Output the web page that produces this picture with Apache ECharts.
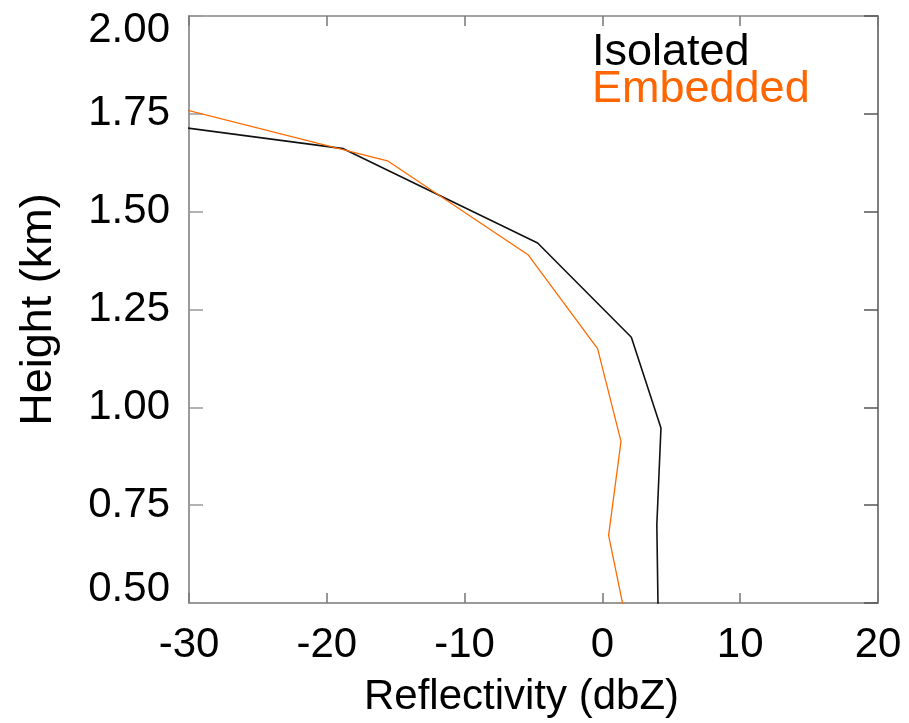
<!DOCTYPE html>
<html>
<head>
<meta charset="utf-8">
<script src="https://cdn.jsdelivr.net/npm/echarts@6/dist/echarts.min.js"></script>
<style>html,body{margin:0;padding:0;background:#fff}#c{width:909px;height:723px}</style>
</head>
<body>
<div id="c"></div>
<script>
// Data (reflectivity dBZ vs height km); first points lie beyond the plot and are clipped
const seriesNames = ['Isolated', 'Embedded'];
const isolatedHeight = [1.90, 1.661, 1.42, 1.179, 0.947, 0.70, 0.46];
const isolatedRefl   = [-70, -18.8, -4.7, 2.1, 4.25, 3.95, 4.05];
const embeddedHeight = [1.87, 1.63, 1.39, 1.15, 0.913, 0.673, 0.433];
const embeddedRefl   = [-42.6, -15.6, -5.4, -0.35, 1.35, 0.45, 1.85];
const xTicks = [-30, -20, -10, 0, 10, 20];
const yTicks = [0.50, 0.75, 1.00, 1.25, 1.50, 1.75, 2.00];

const FONT = '"Liberation Sans", Arial, Helvetica, sans-serif';
const colors = ['#111111', '#ff6a00'];
const pair = (xs, ys) => xs.map((x, i) => [x, ys[i]]);

const chart = echarts.init(document.getElementById('c'), null, {renderer: 'canvas'});
const axisLineStyle = {color: '#9a9a9a', width: 2};
chart.setOption({
  animation: false,
  backgroundColor: '#ffffff',
  grid: {left: 189, top: 16, right: 31, bottom: 117},
  xAxis: [{
    type: 'value', min: xTicks[0], max: xTicks[xTicks.length - 1], interval: 10,
    position: 'bottom',
    axisLine: {show: true, lineStyle: axisLineStyle},
    axisTick: {show: true, inside: true, length: 10, lineStyle: {color: '#777', width: 1.5}},
    splitLine: {show: false},
    axisLabel: {fontFamily: FONT, fontSize: 42, color: '#000', margin: 21, showMinLabel: true, showMaxLabel: true},
    name: 'Reflectivity (dbZ)', nameLocation: 'middle', nameGap: 73,
    nameTextStyle: {fontFamily: FONT, fontSize: 42, color: '#000', padding: [0, 24, 0, 0]}
  }, {
    type: 'value', min: xTicks[0], max: xTicks[xTicks.length - 1], interval: 10,
    position: 'top',
    axisLine: {show: true, onZero: false, lineStyle: {color: '#888', width: 1.5}},
    axisTick: {show: true, inside: true, length: 10, lineStyle: {color: '#777', width: 1.5}},
    splitLine: {show: false}, axisLabel: {show: false}
  }],
  yAxis: [{
    type: 'value', min: yTicks[0], max: yTicks[yTicks.length - 1], interval: 0.25,
    position: 'left',
    axisLine: {show: true, onZero: false, lineStyle: axisLineStyle},
    axisTick: {show: true, inside: true, length: 14, lineStyle: {color: '#999', width: 1.5}},
    splitLine: {show: false},
    axisLabel: {
      fontFamily: FONT, fontSize: 42, color: '#000', margin: 19, lineHeight: 28,
      formatter: v => v.toFixed(2), showMinLabel: true, showMaxLabel: true,
      verticalAlignMinLabel: 'bottom', verticalAlignMaxLabel: 'top'
    },
    name: 'Height (km)', nameLocation: 'middle', nameGap: 128,
    nameTextStyle: {fontFamily: FONT, fontSize: 45, color: '#000'}
  }, {
    type: 'value', min: yTicks[0], max: yTicks[yTicks.length - 1], interval: 0.25,
    position: 'right',
    axisLine: {show: true, onZero: false, lineStyle: {color: '#555', width: 1.5}},
    axisTick: {show: true, inside: true, length: 14, lineStyle: {color: '#555', width: 1.5}},
    splitLine: {show: false}, axisLabel: {show: false}
  }],
  series: [{
    name: seriesNames[0], type: 'line', data: pair(isolatedRefl, isolatedHeight),
    showSymbol: false, symbol: 'none', clip: true,
    lineStyle: {color: colors[0], width: 1.6}
  }, {
    name: seriesNames[1], type: 'line', data: pair(embeddedRefl, embeddedHeight),
    showSymbol: false, symbol: 'none', clip: true,
    lineStyle: {color: colors[1], width: 1.3}
  }],
  graphic: [{
    type: 'text', left: 592, top: 30,
    style: {text: seriesNames[0], fill: '#000', font: '45px ' + FONT}
  }, {
    type: 'text', left: 592, top: 67,
    style: {text: seriesNames[1], fill: '#ff6600', font: '45px ' + FONT}
  }]
});
</script>
</body>
</html>
